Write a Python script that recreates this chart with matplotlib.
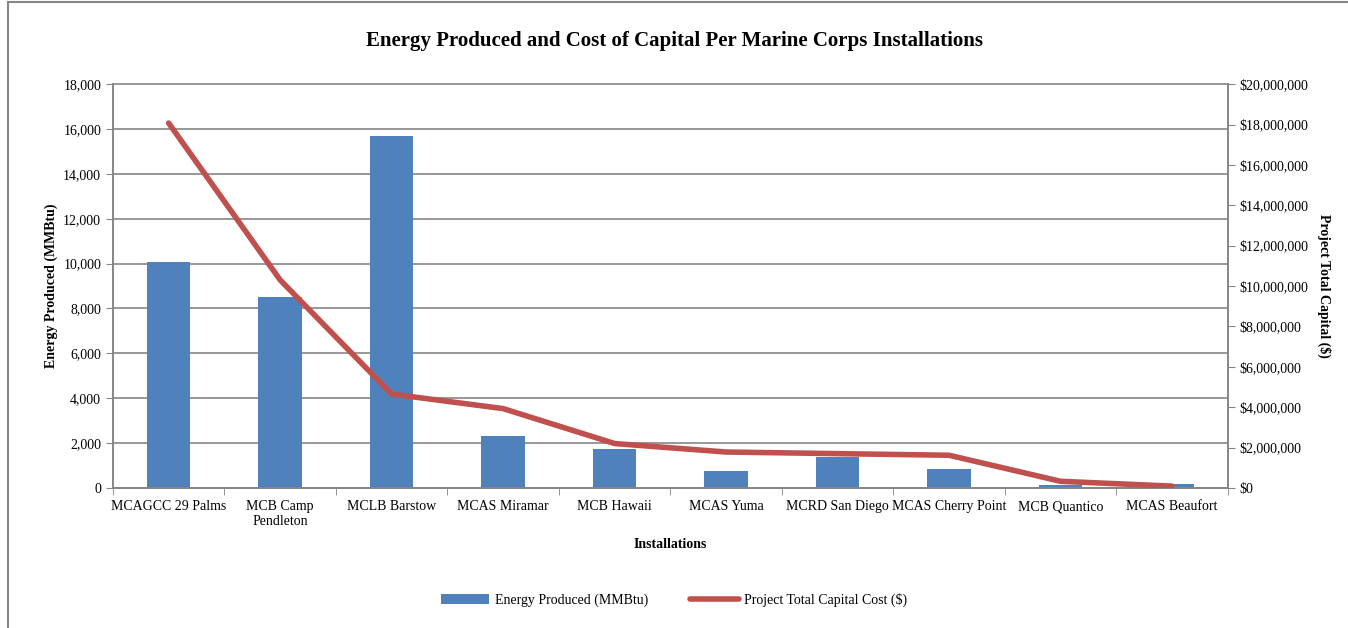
import numpy as np
import matplotlib.pyplot as plt
from matplotlib.patches import Rectangle
from matplotlib.ticker import FuncFormatter

plt.rcParams['font.family'] = ['Liberation Serif', 'DejaVu Serif']

# data
installations = ['MCAGCC 29 Palms', 'MCB Camp\nPendleton', 'MCLB Barstow', 'MCAS Miramar',
                 'MCB Hawaii', 'MCAS Yuma', 'MCRD San Diego', 'MCAS Cherry Point',
                 'MCB Quantico', 'MCAS Beaufort']
energy_mmbtu = [10050, 8500, 15700, 2320, 1720, 750, 1360, 830, 110, 180]
capital_cost = [18070000, 10300000, 4650000, 3930000, 2200000, 1780000, 1700000, 1620000, 330000, 90000]

bar_color = '#4F81BD'
line_color = '#C0504D'
axis_gray = '#868686'

fig = plt.figure(figsize=(13.48, 6.28), dpi=100)
ax = fig.add_axes([0.0838, 0.223, 0.827, 0.643])
ax2 = ax.twinx()

x = np.arange(len(installations))
ax.bar(x, energy_mmbtu, width=0.39, color=bar_color, zorder=2, label='Energy Produced (MMBtu)')
ax2.plot(x, capital_cost, color=line_color, lw=4, solid_capstyle='round', zorder=3,
         label='Project Total Capital Cost ($)')

ax.set_xlim(-0.5, len(installations) - 0.5)
ax.set_ylim(0, 18000)
ax.set_yticks(np.arange(0, 18001, 2000))
ax.yaxis.set_major_formatter(FuncFormatter(lambda v, p: f'{int(v):,}'))
ax2.set_ylim(0, 20000000)
ax2.set_yticks(np.arange(0, 20000001, 2000000))
ax2.yaxis.set_major_formatter(FuncFormatter(lambda v, p: f'${int(v):,}'))

ax.grid(axis='y', color=axis_gray, lw=1.2, zorder=0)
ax.set_axisbelow(True)
for gl in ax.get_ygridlines():
    gl.set_clip_on(False)

ax.set_xticks(x)
ax.set_xticklabels(installations, fontsize=10)
ax.set_xticks(np.arange(-0.5, len(installations)), minor=True)
ax.tick_params(axis='x', which='major', length=0, pad=9)
ax.tick_params(axis='x', which='minor', length=5, color=axis_gray, direction='out')
ax.tick_params(axis='y', labelsize=10, length=5, color=axis_gray)
ax2.tick_params(axis='y', labelsize=10, length=5, color=axis_gray)

for a in (ax, ax2):
    a.spines['top'].set_visible(False)
    for side in ('left', 'right', 'bottom'):
        a.spines[side].set_color(axis_gray)
        a.spines[side].set_linewidth(1.2)

ax.set_ylabel('Energy Produced (MMBtu)', fontsize=10, fontweight='bold', labelpad=4)
ax2.set_ylabel('Project Total Capital ($)', fontsize=10, fontweight='bold', rotation=-90, labelpad=16)
ax.set_xlabel('Installations', fontsize=10, fontweight='bold', labelpad=7)

fig.suptitle('Energy Produced and Cost of Capital Per Marine Corps Installations',
             x=0.5, y=0.95, fontsize=15, fontweight='bold')

h1, l1 = ax.get_legend_handles_labels()
h2, l2 = ax2.get_legend_handles_labels()
fig.legend(h1 + h2, l1 + l2, loc='center', bbox_to_anchor=(0.5, 0.045), ncol=2, frameon=False,
           fontsize=10, handlelength=3.5, handletextpad=0.4, columnspacing=3)

# outer chart border
fig.patches.append(Rectangle((0.006, -0.01), 1.1, 1.007, transform=fig.transFigure,
                             fill=False, edgecolor=axis_gray, lw=1.5))

fig.savefig('out.png', dpi=100)
